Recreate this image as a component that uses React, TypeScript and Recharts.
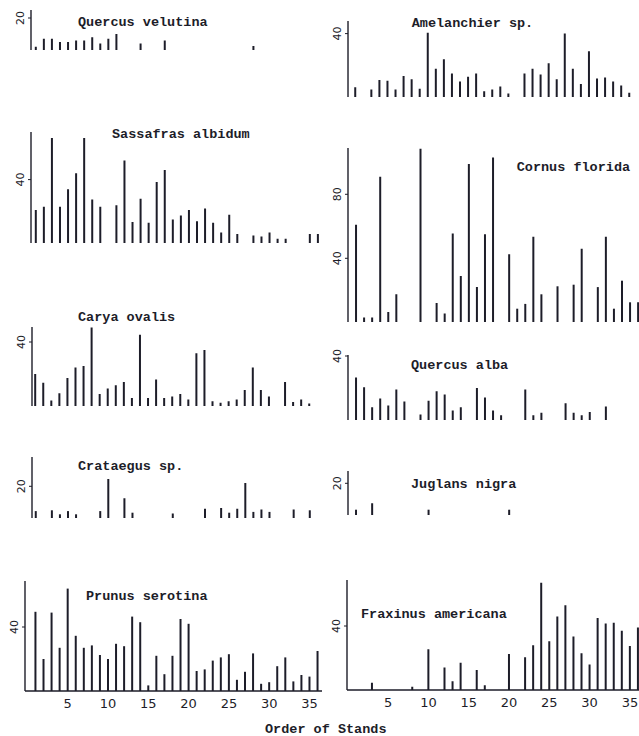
import { Bar, BarChart, XAxis, YAxis } from 'recharts'

// stand number (x) shared by every species panel
const stands = [
  1, 2, 3, 4, 5, 6, 7, 8, 9, 10, 11, 12, 13, 14, 15, 16, 17, 18,
  19, 20, 21, 22, 23, 24, 25, 26, 27, 28, 29, 30, 31, 32, 33, 34, 35, 36,
]

// importance values per stand, 0 where the species is absent
const quercusVelutina = [2, 7, 7, 5, 5, 6, 6, 8, 4, 7, 10, 0, 0, 4, 0, 0, 6, 0, 0, 0, 0, 0, 0, 0, 0, 0, 0, 2.5, 0, 0, 0, 0, 0, 0, 0, 0]
const sassafrasAlbidum = [21, 23, 66, 23, 34, 44, 66, 27.5, 23, 0, 24, 52, 13.5, 28, 13, 38.5, 46, 15, 17.5, 21, 14, 22, 13, 7, 18, 6, 0, 5, 4.5, 7, 3, 3, 0, 0, 6, 6]
const caryaOvalis = [20, 14.5, 3.5, 8, 17.5, 24, 25, 49, 7.5, 11, 13, 15, 5, 44.5, 5, 16.5, 5, 6, 7.5, 4, 33, 35, 3, 2, 3, 4, 10, 24, 10, 6, 0, 15, 2.5, 4, 1.5, 0]
const crataegus = [4.5, 0, 5, 2.5, 4.5, 2.5, 0, 0, 4.5, 24.5, 0, 12.5, 3.5, 0, 0, 0, 0, 3, 0, 0, 0, 6, 0, 6.5, 3.5, 6, 22, 4, 5.5, 4, 0, 0, 5.5, 0, 5, 0]
const prunusSerotina = [49.5, 20, 49, 27, 64, 34.5, 27, 28.5, 22.5, 20, 29.5, 28, 46.5, 43, 3.5, 22, 10.5, 22, 45, 42, 12.5, 13.5, 19, 21, 23, 7, 12, 23.5, 4.5, 5.5, 15.5, 21, 6, 10, 9, 25]
const amelanchier = [6.5, 0, 5, 11, 10.5, 5, 13.5, 11.5, 5.5, 40.5, 18, 24, 15, 10, 13, 15, 4, 5, 7, 2.5, 0, 15, 18, 14.5, 21.5, 11.5, 40, 18, 8.5, 29, 12, 12.5, 10, 7.5, 3, 0]
const cornusFlorida = [61, 3, 3, 91, 6.5, 17.5, 0, 0, 108.5, 0, 12, 5.5, 55.5, 29, 99, 22, 55, 103, 0, 42.5, 8.5, 11.5, 53.5, 17.5, 0, 22.5, 0, 23.5, 46, 0, 22, 53.5, 8.5, 26, 12.5, 12.5]
const quercusAlba = [26.5, 20.5, 8, 13.5, 9, 19, 11.5, 0, 3.5, 12, 18, 16, 6, 8, 0, 20, 14, 6, 3, 0, 0, 19, 3, 4.5, 0, 0, 10.5, 4.5, 3, 5, 0, 8.5, 0, 0, 0, 0]
const juglansNigra = [3.5, 0, 7.5, 0, 0, 0, 0, 0, 0, 3.5, 0, 0, 0, 0, 0, 0, 0, 0, 0, 3.5, 0, 0, 0, 0, 0, 0, 0, 0, 0, 0, 0, 0, 0, 0, 0, 0]
const fraxinusAmericana = [0, 0, 4.5, 0, 0, 0, 0, 2, 0, 25.5, 0, 14, 5.5, 17, 0, 12.5, 3, 0, 0, 22.5, 0, 20.5, 28, 67, 30.5, 46, 53, 33.5, 23, 16, 45, 41.5, 42, 37, 27.5, 39]

const standTicks = [5, 10, 15, 20, 25, 30, 35]

const INK = '#1d1d29'
const MONO = '"Liberation Mono", "DejaVu Sans Mono", monospace'
const SANS = '"DejaVu Sans", sans-serif'

// px per stand and per unit of value, same for all panels
const STAND_PX = 8.06
const VALUE_PX = 1.6
const Y_W = 30
const columns = [
  { origin: 27.45, end: 36.55 },
  { origin: 347.6, end: 36.8 },
]

interface Panel {
  name: string
  values: number[]
  col: number
  top: number
  base: number
  ticks: number[]
  axisAt: number
  titleX: number
  titleY: number
  bottom?: boolean
}

const panels: Panel[] = [
  { name: 'Quercus velutina', values: quercusVelutina, col: 0, top: 10, base: 50, ticks: [20], axisAt: 0.4, titleX: 78, titleY: 23 },
  { name: 'Sassafras albidum', values: sassafrasAlbidum, col: 0, top: 131.7, base: 243.3, ticks: [40], axisAt: 0.4, titleX: 112, titleY: 135 },
  { name: 'Carya ovalis', values: caryaOvalis, col: 0, top: 326.7, base: 405.7, ticks: [40], axisAt: 0.6, titleX: 78, titleY: 318 },
  { name: 'Crataegus sp.', values: crataegus, col: 0, top: 457, base: 518.3, ticks: [20], axisAt: 0.53, titleX: 78, titleY: 466.7 },
  { name: 'Prunus serotina', values: prunusSerotina, col: 0, top: 580.7, base: 690.7, ticks: [40], axisAt: -0.3, titleX: 86, titleY: 597.3, bottom: true },
  { name: 'Amelanchier sp.', values: amelanchier, col: 1, top: 20.7, base: 97.3, ticks: [40], axisAt: 0.1, titleX: 411.7, titleY: 24 },
  { name: 'Cornus florida', values: cornusFlorida, col: 1, top: 148, base: 322.3, ticks: [40, 80], axisAt: 0, titleX: 516.7, titleY: 168.3 },
  { name: 'Quercus alba', values: quercusAlba, col: 1, top: 355, base: 420, ticks: [40], axisAt: 0, titleX: 411, titleY: 366 },
  { name: 'Juglans nigra', values: juglansNigra, col: 1, top: 470.7, base: 515, ticks: [20], axisAt: 0, titleX: 411, titleY: 485 },
  { name: 'Fraxinus americana', values: fraxinusAmericana, col: 1, top: 580, base: 690, ticks: [40], axisAt: -0.1, titleX: 361, titleY: 615, bottom: true },
]

function RotatedTick(props: any) {
  const { x, y, payload } = props
  return (
    <text
      x={x}
      y={y}
      transform={`rotate(-90 ${x} ${y})`}
      textAnchor="middle"
      fontSize={11}
      fontFamily={SANS}
      fill={INK}
    >
      {payload.value}
    </text>
  )
}

function SpeciesPanel({ panel }: { panel: Panel }) {
  const column = columns[panel.col]
  const plotLeft = column.origin + panel.axisAt * STAND_PX
  const plotW = (column.end - panel.axisAt) * STAND_PX
  const plotH = panel.base - panel.top
  const yMax = plotH / VALUE_PX
  const xh = panel.bottom ? 24 : 0
  const rows = stands.map((stand, i) => ({ stand, value: panel.values[i] }))

  return (
    <>
      <div style={{ position: 'absolute', left: plotLeft - Y_W, top: panel.top - 8 }}>
        <BarChart
          width={Y_W + plotW}
          height={8 + plotH + xh}
          data={rows}
          margin={{ top: 8, right: 0, bottom: 0, left: 0 }}
        >
          <XAxis
            type="number"
            dataKey="stand"
            domain={[panel.axisAt, column.end]}
            allowDataOverflow
            ticks={panel.bottom ? standTicks : []}
            interval={0}
            tick={panel.bottom ? { fontSize: 13, fontFamily: SANS, fill: INK } : false}
            tickLine={false}
            tickSize={0}
            tickMargin={8}
            height={xh}
            axisLine={{ stroke: INK, strokeWidth: 1.4 }}
          />
          <YAxis
            type="number"
            domain={[0, yMax]}
            allowDataOverflow
            ticks={panel.ticks}
            interval={0}
            width={Y_W}
            tickSize={3}
            tickMargin={4}
            tickLine={{ stroke: INK, strokeWidth: 1 }}
            axisLine={{ stroke: INK, strokeWidth: 1.4 }}
            tick={<RotatedTick />}
          />
          <Bar dataKey="value" barSize={2} fill={INK} isAnimationActive={false} />
        </BarChart>
      </div>
      <div
        style={{
          position: 'absolute',
          left: panel.titleX,
          top: panel.titleY - 9,
          fontFamily: MONO,
          fontWeight: 'bold',
          fontSize: 13.5,
          lineHeight: '18px',
          color: INK,
          whiteSpace: 'nowrap',
        }}
      >
        {panel.name}
      </div>
    </>
  )
}

export default function App() {
  return (
    <div
      style={{
        position: 'absolute',
        left: 0,
        top: 0,
        width: 639,
        height: 736,
        overflow: 'hidden',
        background: '#fff',
      }}
    >
      {panels.map((panel) => (
        <SpeciesPanel key={panel.name} panel={panel} />
      ))}
      <div
        style={{
          position: 'absolute',
          left: 265,
          top: 721,
          fontFamily: MONO,
          fontWeight: 'bold',
          fontSize: 13.5,
          lineHeight: '18px',
          color: INK,
          whiteSpace: 'nowrap',
        }}
      >
        Order of Stands
      </div>
    </div>
  )
}
